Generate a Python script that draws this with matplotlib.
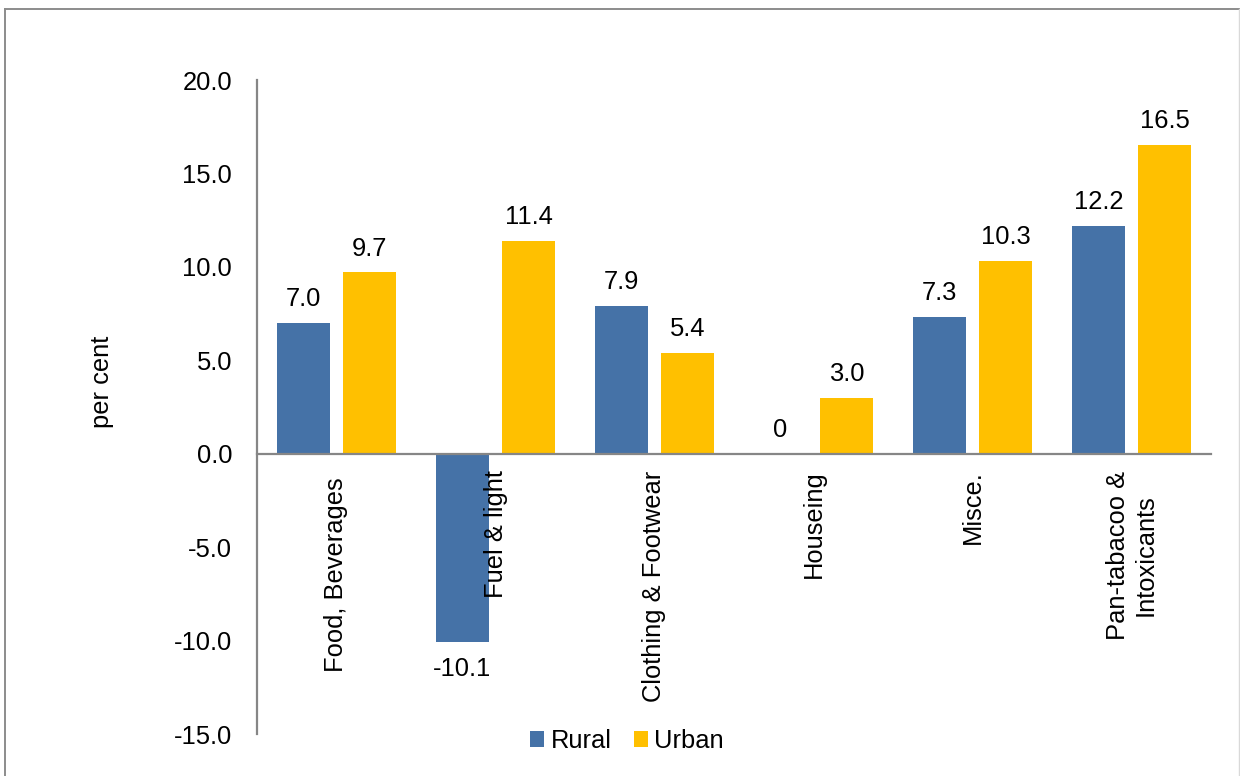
import matplotlib
matplotlib.use("Agg")
import matplotlib.pyplot as plt
from matplotlib.lines import Line2D
from matplotlib.patches import Patch
import numpy as np

plt.rcParams['font.family'] = ['Liberation Sans', 'DejaVu Sans']

categories = ["Food, Beverages ", "Fuel & light", "Clothing & Footwear",
              "Houseing", "Misce.", "Pan-tabacoo &\nIntoxicants"]
rural = [7.0, -10.1, 7.9, 0.0, 7.3, 12.2]
urban = [9.7, 11.4, 5.4, 3.0, 10.3, 16.5]
series_names = ["Rural", "Urban"]
y_ticks = [-15.0, -10.0, -5.0, 0.0, 5.0, 10.0, 15.0, 20.0]

BLUE = "#4572A7"
GOLD = "#FFC000"
AXIS_GREY = "#868686"
FS = 18.4

W, H = 1240, 776
fig = plt.figure(figsize=(W / 100, H / 100), dpi=100)
ax = fig.add_axes([257 / W, 1 - 734 / H, (1211 - 257) / W, (734 - 80) / H])

x = np.arange(len(categories))
width = 0.333
offset = 0.208
bars_r = ax.bar(x - offset, rural, width, color=BLUE, label=series_names[0])
bars_u = ax.bar(x + offset, urban, width, color=GOLD, label=series_names[1])


def fmt(v):
    return "0" if v == 0 else f"{v:.1f}"


for bars, vals in ((bars_r, rural), (bars_u, urban)):
    for b, v in zip(bars, vals):
        cx = b.get_x() + b.get_width() / 2
        if v >= 0:
            ax.annotate(fmt(v), (cx, v), xytext=(0, 12.2), textcoords="offset points",
                        ha="center", va="baseline", fontsize=FS, color="black")
        else:
            ax.annotate(fmt(v), (cx, v), xytext=(0, -10.8), textcoords="offset points",
                        ha="center", va="top", fontsize=FS, color="black")

# category axis sits on the zero line
ax.spines["top"].set_visible(False)
ax.spines["right"].set_visible(False)
ax.spines["bottom"].set_position(("data", 0))
for s in ("left", "bottom"):
    ax.spines[s].set_color(AXIS_GREY)
    ax.spines[s].set_linewidth(1.6)

ax.set_xlim(-0.5, len(categories) - 0.5)
ax.set_ylim(-15, 20)
ax.set_yticks(y_ticks)
ax.set_yticklabels([f"{t:.1f}" for t in y_ticks], fontsize=FS)
ax.set_xticks(x)
ax.set_xticklabels(categories, rotation=90, fontsize=FS, ha="center", va="top",
                   multialignment="center")
ax.tick_params(axis="both", length=0)
ax.tick_params(axis="y", pad=18)
ax.tick_params(axis="x", pad=12)

fig.text(102 / W, 1 - 382 / H, "per cent", rotation=90, ha="center", va="center",
         fontsize=FS)

handles = [Patch(facecolor=BLUE, label=series_names[0]),
           Patch(facecolor=GOLD, label=series_names[1])]
fig.legend(handles=handles, loc="center", bbox_to_anchor=(627 / W, 1 - 741 / H),
           ncol=2, frameon=False, fontsize=FS, handlelength=0.55, handleheight=0.55,
           handletextpad=0.25, columnspacing=0.85, borderpad=0, borderaxespad=0)

# outer frame of the chart area
fig.add_artist(Line2D([5 / W, 5 / W], [0, 1 - 9 / H], transform=fig.transFigure,
                      color="#8c8c8c", lw=1.4))
fig.add_artist(Line2D([5 / W, 1239 / W], [1 - 9 / H, 1 - 9 / H], transform=fig.transFigure,
                      color="#8c8c8c", lw=1.4))
fig.add_artist(Line2D([1239 / W, 1239 / W], [0, 1 - 9 / H], transform=fig.transFigure,
                      color="#d9d9d9", lw=1.0))

fig.savefig("out.png", dpi=100, facecolor="white")
